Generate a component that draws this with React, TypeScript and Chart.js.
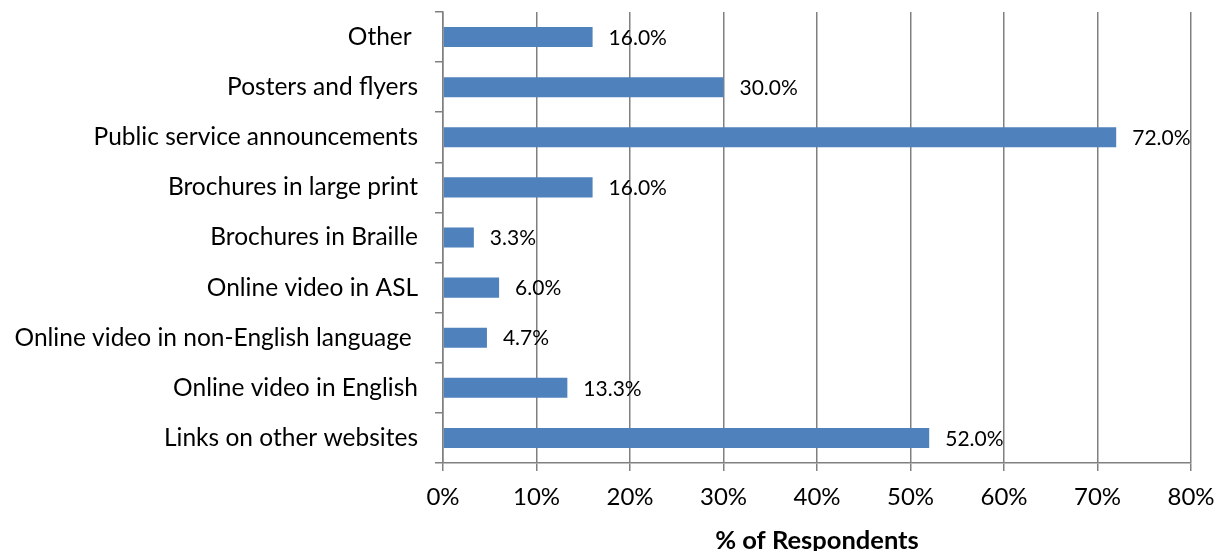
import React, { useEffect, useRef } from "react";
import { Chart, registerables } from "chart.js";

Chart.register(...registerables);

const categories = [
  "Other ",
  "Posters and flyers",
  "Public service announcements",
  "Brochures in large print",
  "Brochures in Braille",
  "Online video in ASL",
  "Online video in non-English language ",
  "Online video in English",
  "Links on other websites",
];
const values = [16.0, 30.0, 72.0, 16.0, 3.3, 6.0, 4.7, 13.3, 52.0];
const xTicks = [0, 10, 20, 30, 40, 50, 60, 70, 80];
const xTitle = "% of Respondents";

const FONT = "Lato, 'Liberation Sans', sans-serif";
const GRID = "#808080";

const valueLabels = {
  id: "valueLabels",
  afterDatasetsDraw(chart: any) {
    const ctx = chart.ctx;
    const meta = chart.getDatasetMeta(0);
    ctx.save();
    ctx.font = `21px ${FONT}`;
    ctx.fillStyle = "#000";
    ctx.textAlign = "left";
    ctx.textBaseline = "middle";
    meta.data.forEach((el: any, i: number) => {
      ctx.fillText(values[i].toFixed(1) + "%", el.x + 16, el.y + 1);
    });
    ctx.restore();
  },
};

export default function App() {
  const ref = useRef<HTMLCanvasElement>(null);
  useEffect(() => {
    if (!ref.current) return;
    const chart = new Chart(ref.current, {
      type: "bar",
      data: {
        labels: categories,
        datasets: [
          {
            data: values,
            backgroundColor: "#4F81BD",
            categoryPercentage: 1,
            barPercentage: 0.4,
          },
        ],
      },
      plugins: [valueLabels],
      options: {
        indexAxis: "y",
        responsive: false,
        animation: false,
        layout: { padding: { left: 0, right: 26, top: 12, bottom: 0 } },
        plugins: {
          legend: { display: false },
          tooltip: { enabled: false },
        },
        scales: {
          x: {
            min: 0,
            max: 80,
            afterBuildTicks(scale: any) {
              scale.ticks = xTicks.map((v) => ({ value: v }));
            },
            afterFit(scale: any) {
              scale.height = 551 - 463;
              scale.paddingLeft = 0;
              scale.paddingRight = 0;
            },
            ticks: {
              color: "#000",
              font: { family: FONT, size: 24 },
              padding: 12,
              callback: (v: any) => v + "%",
            },
            grid: { color: GRID, lineWidth: 1.5, tickLength: 8 },
            border: { color: GRID, width: 1.5 },
            title: {
              display: true,
              text: xTitle,
              color: "#000",
              font: { family: FONT, size: 25.5, weight: "bold" },
              padding: { top: 0, bottom: -5 },
            },
          },
          y: {
            afterFit(scale: any) {
              scale.width = 443;
              scale.paddingTop = 0;
              scale.paddingBottom = 0;
            },
            ticks: {
              color: "#000",
              font: { family: FONT, size: 24.5 },
              padding: 17,
            },
            grid: {
              drawOnChartArea: false,
              color: GRID,
              lineWidth: 1.5,
              tickLength: 8,
            },
            border: { color: GRID, width: 1.5 },
          },
        },
      },
    });
    return () => chart.destroy();
  }, []);
  return (
    <canvas
      ref={ref}
      width={1217}
      height={551}
      style={{ position: "absolute", left: 0, top: 0, display: "block" }}
    />
  );
}
